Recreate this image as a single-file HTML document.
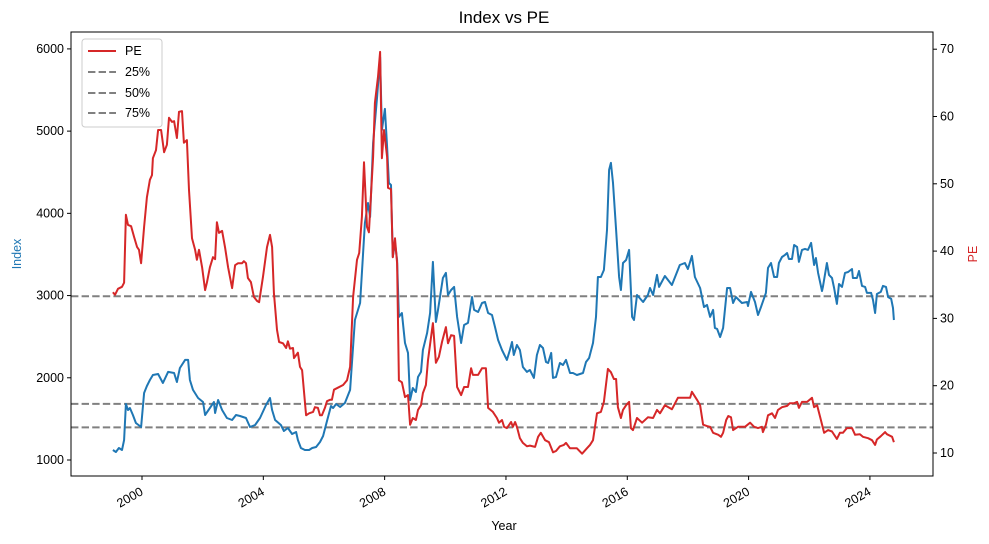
<!DOCTYPE html>
<html><head><meta charset="utf-8"><style>
body{margin:0;background:#fff}
svg{display:block;font-family:"Liberation Sans","DejaVu Sans",sans-serif}
</style></head><body>
<svg id="chart" width="989" height="544" viewBox="0 0 989 544">
<rect width="989" height="544" fill="#fff"/>
<text x="504" y="23" text-anchor="middle" font-size="17">Index vs PE</text>
<g id="grid"></g>
<g id="series"></g>
<rect x="71" y="32" width="862" height="444" fill="none" stroke="#000" stroke-width="1"/>
<g id="axes" font-size="12.5"></g>
<text x="504" y="530" text-anchor="middle" font-size="12.5">Year</text>
<text transform="translate(21,254) rotate(-90)" text-anchor="middle" font-size="12.5" fill="#1f77b4">Index</text>
<text transform="translate(977,254) rotate(-90)" text-anchor="middle" font-size="12.5" fill="#d62728">PE</text>
<g>
<rect x="82" y="39" width="80" height="88" rx="3" fill="#fff" fill-opacity="0.8" stroke="#ccc"/>
<g><line x1="88" y1="51" x2="116" y2="51" stroke="#d62728" stroke-width="2"/><text x="125" y="55" font-size="12.5">PE</text></g>
<g><line x1="88" y1="72" x2="116" y2="72" stroke="#808080" stroke-width="2" stroke-dasharray="7.4 3.2"/><text x="125" y="76" font-size="12.5">25%</text></g>
<g><line x1="88" y1="93" x2="116" y2="93" stroke="#808080" stroke-width="2" stroke-dasharray="7.4 3.2"/><text x="125" y="97" font-size="12.5">50%</text></g>
<g><line x1="88" y1="113" x2="116" y2="113" stroke="#808080" stroke-width="2" stroke-dasharray="7.4 3.2"/><text x="125" y="117" font-size="12.5">75%</text></g>
</g>
</svg>
<script>
const indexDates=[1999.04,1999.14,1999.24,1999.34,1999.41,1999.47,1999.54,1999.60,1999.70,1999.80,1999.97,2000.07,2000.16,2000.26,2000.36,2000.53,2000.69,2000.86,2001.06,2001.15,2001.25,2001.42,2001.52,2001.58,2001.68,2001.85,2002.01,2002.08,2002.24,2002.37,2002.41,2002.51,2002.64,2002.80,2002.97,2003.10,2003.23,2003.43,2003.56,2003.73,2003.89,2004.09,2004.22,2004.29,2004.39,2004.58,2004.68,2004.81,2004.95,2005.08,2005.14,2005.24,2005.37,2005.51,2005.61,2005.74,2005.87,2005.97,2006.10,2006.23,2006.30,2006.40,2006.53,2006.69,2006.86,2007.02,2007.19,2007.35,2007.45,2007.52,2007.62,2007.75,2007.85,2007.91,2008.01,2008.08,2008.14,2008.21,2008.27,2008.34,2008.41,2008.47,2008.57,2008.67,2008.77,2008.84,2008.93,2009.03,2009.10,2009.20,2009.26,2009.40,2009.50,2009.59,2009.69,2009.76,2009.92,2010.02,2010.09,2010.19,2010.29,2010.39,2010.52,2010.62,2010.75,2010.88,2010.95,2011.08,2011.21,2011.31,2011.41,2011.54,2011.64,2011.74,2011.87,2012.03,2012.13,2012.20,2012.26,2012.36,2012.46,2012.56,2012.69,2012.79,2012.92,2013.02,2013.12,2013.22,2013.32,2013.39,2013.49,2013.55,2013.65,2013.78,2013.88,2013.98,2014.11,2014.21,2014.34,2014.54,2014.64,2014.74,2014.87,2014.97,2015.03,2015.13,2015.23,2015.33,2015.40,2015.46,2015.53,2015.63,2015.73,2015.79,2015.86,2015.96,2016.06,2016.16,2016.22,2016.32,2016.52,2016.68,2016.75,2016.85,2016.98,2017.05,2017.24,2017.47,2017.73,2017.90,2018.00,2018.13,2018.23,2018.40,2018.53,2018.63,2018.73,2018.83,2018.89,2018.96,2019.06,2019.16,2019.29,2019.39,2019.49,2019.58,2019.78,2019.95,2019.98,2020.08,2020.21,2020.31,2020.41,2020.57,2020.64,2020.74,2020.84,2020.94,2021.00,2021.10,2021.20,2021.27,2021.33,2021.43,2021.50,2021.60,2021.66,2021.76,2021.86,2021.96,2022.06,2022.16,2022.22,2022.29,2022.42,2022.45,2022.58,2022.65,2022.75,2022.82,2022.91,2022.98,2023.08,2023.18,2023.28,2023.41,2023.44,2023.57,2023.64,2023.74,2023.84,2023.90,2024.04,2024.10,2024.17,2024.23,2024.36,2024.43,2024.53,2024.60,2024.70,2024.76,2024.79];
const indexValues=[1122,1097,1146,1122,1243,1681,1608,1633,1547,1450,1401,1815,1900,1973,2034,2046,1937,2071,2058,1949,2119,2217,2217,1973,1852,1754,1706,1547,1633,1706,1572,1730,1608,1511,1487,1547,1535,1511,1401,1426,1511,1669,1754,1608,1487,1426,1353,1389,1316,1341,1243,1146,1122,1122,1146,1158,1219,1292,1474,1657,1633,1681,1645,1693,1852,2703,2910,3883,4126,3956,4856,5416,5902,5014,5270,4808,4370,4345,3469,3640,3433,2740,2788,2423,2302,1730,1876,1827,2010,2071,2338,2545,2788,3409,2679,2825,3214,3275,3007,3068,3105,2740,2423,2642,2667,2983,2825,2800,2910,2922,2788,2764,2618,2460,2338,2217,2338,2435,2277,2399,2338,2131,2071,2095,1998,2277,2399,2362,2192,2180,2302,1998,2010,2180,2156,2217,2058,2058,2034,2058,2192,2241,2423,2740,3226,3226,3311,3798,4528,4613,4370,3798,3226,3068,3396,3433,3555,2740,2703,3007,2922,3007,3092,3007,3251,3105,3238,3129,3372,3396,3323,3482,3226,3092,2861,2886,2740,2825,2606,2594,2496,2606,3092,3092,2910,2983,2910,2922,2873,3044,2922,2764,2861,3032,3336,3396,3226,3226,3396,3469,3494,3518,3445,3445,3615,3591,3409,3555,3567,3555,3640,3372,3457,3275,3056,3105,3396,3251,3214,3092,2898,3141,3105,3275,3287,3323,3214,3214,3299,3117,3105,3032,3032,2946,2788,3019,3044,3117,3105,2983,2959,2849,2703];
const peDates=[1999.04,1999.11,1999.21,1999.34,1999.41,1999.47,1999.54,1999.64,1999.74,1999.84,1999.90,1999.97,2000.07,2000.16,2000.26,2000.33,2000.36,2000.46,2000.53,2000.63,2000.73,2000.82,2000.89,2000.99,2001.06,2001.15,2001.22,2001.32,2001.38,2001.48,2001.55,2001.65,2001.75,2001.81,2001.88,2001.98,2002.08,2002.14,2002.24,2002.34,2002.41,2002.47,2002.54,2002.64,2002.74,2002.84,2002.97,2003.07,2003.17,2003.30,2003.36,2003.43,2003.49,2003.59,2003.69,2003.79,2003.86,2003.99,2004.12,2004.22,2004.29,2004.35,2004.45,2004.52,2004.65,2004.75,2004.81,2004.88,2004.98,2005.01,2005.14,2005.21,2005.28,2005.41,2005.51,2005.64,2005.70,2005.80,2005.87,2005.93,2006.03,2006.10,2006.20,2006.26,2006.33,2006.46,2006.63,2006.76,2006.86,2006.96,2007.09,2007.16,2007.25,2007.32,2007.42,2007.48,2007.62,2007.68,2007.78,2007.85,2007.91,2007.98,2008.08,2008.11,2008.21,2008.27,2008.34,2008.41,2008.47,2008.57,2008.67,2008.77,2008.84,2008.93,2009.03,2009.10,2009.20,2009.26,2009.36,2009.43,2009.59,2009.69,2009.79,2009.89,2010.02,2010.09,2010.19,2010.29,2010.39,2010.52,2010.62,2010.75,2010.85,2010.91,2011.08,2011.21,2011.34,2011.41,2011.57,2011.70,2011.77,2011.87,2011.94,2012.03,2012.17,2012.23,2012.30,2012.36,2012.46,2012.56,2012.69,2012.79,2012.96,2013.06,2013.15,2013.29,2013.42,2013.55,2013.65,2013.78,2013.91,2013.98,2014.11,2014.34,2014.51,2014.67,2014.77,2014.87,2015.00,2015.13,2015.23,2015.36,2015.46,2015.56,2015.63,2015.69,2015.79,2015.86,2015.96,2016.06,2016.12,2016.19,2016.32,2016.49,2016.68,2016.85,2016.98,2017.08,2017.24,2017.47,2017.67,2017.90,2018.07,2018.13,2018.30,2018.40,2018.50,2018.63,2018.73,2018.83,2019.00,2019.09,2019.16,2019.26,2019.33,2019.42,2019.49,2019.65,2019.88,2020.05,2020.18,2020.31,2020.44,2020.47,2020.57,2020.64,2020.77,2020.87,2020.97,2021.10,2021.27,2021.36,2021.50,2021.60,2021.66,2021.76,2021.93,2022.09,2022.16,2022.26,2022.36,2022.49,2022.62,2022.75,2022.91,2023.01,2023.11,2023.24,2023.41,2023.51,2023.67,2023.77,2023.94,2024.07,2024.17,2024.23,2024.36,2024.50,2024.56,2024.73,2024.79];
const peValues=[33.9,33.5,34.4,34.7,35.3,45.4,43.9,43.7,42.1,40.6,40.2,38.2,43.6,48.0,50.6,51.3,53.8,55.0,58.0,58.0,54.7,55.8,59.8,59.2,59.3,56.8,60.7,60.8,56.1,56.5,49.1,41.9,40.2,38.7,40.2,37.6,34.2,35.3,37.6,39.1,38.8,44.3,42.7,43.0,40.5,37.6,34.5,37.9,38.2,38.2,38.5,38.2,36.0,35.4,33.2,32.6,32.4,36.2,40.6,42.4,40.6,33.8,28.3,26.5,26.3,25.6,26.6,25.5,25.6,24.1,24.9,22.8,22.3,15.6,15.9,16.1,16.8,16.7,15.6,15.6,16.7,17.7,17.9,17.9,19.4,19.7,20.1,20.8,22.8,33.2,38.7,39.7,45.1,53.2,43.6,42.8,54.0,62.0,65.9,69.6,53.8,58.0,54.0,49.4,49.2,39.1,41.9,38.2,20.8,20.5,18.3,18.6,14.2,15.2,14.9,16.4,17.1,18.9,20.1,23.8,29.3,23.4,24.3,26.5,28.7,26.3,27.5,27.4,19.8,18.6,19.8,19.8,22.6,21.6,21.6,22.6,22.6,16.7,16.1,15.2,14.5,14.9,13.9,13.7,14.6,13.9,14.6,13.9,12.2,11.5,11.0,11.1,10.9,12.4,13.0,11.9,11.6,10.1,10.3,11.0,11.2,11.5,10.7,10.7,9.9,10.7,11.2,11.9,15.9,16.1,17.6,22.5,22.0,21.0,21.0,16.8,15.2,16.4,17.1,17.6,13.7,13.4,15.2,14.5,15.3,15.2,16.4,15.9,17.1,16.5,18.2,18.2,18.2,19.1,17.9,17.1,14.2,14.0,13.9,13.0,12.7,12.4,13.0,14.9,15.5,15.3,13.4,13.9,13.9,14.5,13.9,13.7,13.9,13.1,14.2,15.6,15.9,15.2,16.4,16.8,17.0,17.4,17.4,17.6,16.7,17.6,17.6,18.2,16.8,17.1,15.3,13.0,13.4,13.2,12.1,13.0,13.0,13.7,13.7,12.7,12.8,12.4,12.2,11.9,11.2,12.0,12.5,13.1,12.8,12.4,11.6];
const quantileLabels=["25%","50%","75%"];
const quantileValues=[13.8,17.3,33.3];
const xTicks=[2000,2004,2008,2012,2016,2020,2024];
const leftTicks=[1000,2000,3000,4000,5000,6000];
const rightTicks=[10,20,30,40,50,60,70];

const NS="http://www.w3.org/2000/svg";
const xs=v=>142+(v-2000)*30.33;
const yL=v=>460-(v-1000)*0.08222;
const yR=v=>453-(v-10)*6.73;
function mk(tag,attrs,parent){const e=document.createElementNS(NS,tag);for(const k in attrs)e.setAttribute(k,attrs[k]);parent.appendChild(e);return e;}
const grid=document.getElementById('grid'),series=document.getElementById('series'),axes=document.getElementById('axes');

quantileValues.forEach((q,i)=>{
  const l=mk('line',{x1:71,x2:933,y1:yR(q),y2:yR(q),stroke:'#808080','stroke-width':2,'stroke-dasharray':'7.4 3.2'},grid);
  
  
});

const ip=mk('polyline',{points:indexDates.map((d,i)=>xs(d).toFixed(1)+','+yL(indexValues[i]).toFixed(1)).join(' '),fill:'none',stroke:'#1f77b4','stroke-width':2,'stroke-linejoin':'round'},series);


const pp=mk('polyline',{points:peDates.map((d,i)=>xs(d).toFixed(1)+','+yR(peValues[i]).toFixed(1)).join(' '),fill:'none',stroke:'#d62728','stroke-width':2,'stroke-linejoin':'round'},series);



xTicks.forEach(t=>{
  const x=xs(t);
  mk('line',{x1:x,x2:x,y1:476,y2:480,stroke:'#000'},axes);
  const tx=mk('text',{x:0,y:0,'text-anchor':'end',transform:`translate(${x+2},${494}) rotate(-30)`},axes);
  tx.textContent=t;
  
  
});
leftTicks.forEach(t=>{
  const y=yL(t);
  mk('line',{x1:67,x2:71,y1:y,y2:y,stroke:'#000'},axes);
  const tx=mk('text',{x:64,y:y+4,'text-anchor':'end'},axes);
  tx.textContent=t;
  
  
});
rightTicks.forEach(t=>{
  const y=yR(t);
  mk('line',{x1:933,x2:937,y1:y,y2:y,stroke:'#000'},axes);
  const tx=mk('text',{x:940,y:y+4,'text-anchor':'start'},axes);
  tx.textContent=t;
  
  
});
</script>
</body></html>
